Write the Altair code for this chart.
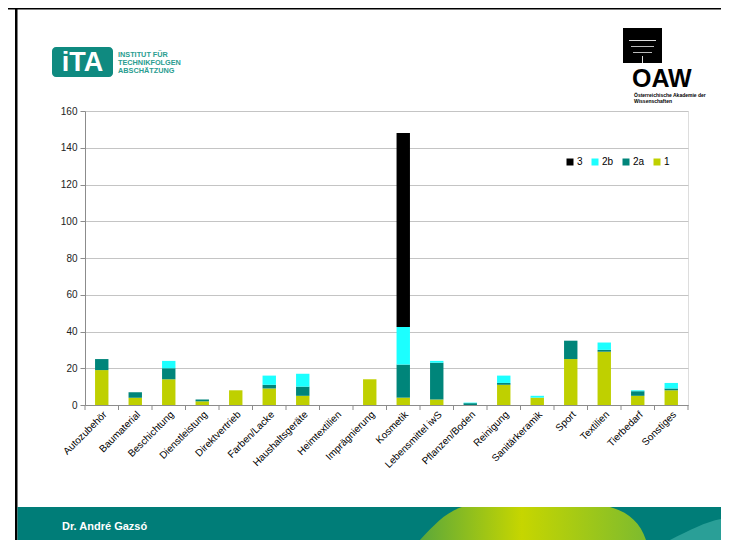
import altair as alt
import pandas as pd

categories = ["Autozubehör", "Baumaterial", "Beschichtung", "Dienstleistung", "Direktvertrieb",
              "Farben/Lacke", "Haushaltsgeräte", "Heimtextilien", "Imprägnierung", "Kosmetik",
              "Lebensmittel iwS", "Pflanzen/Boden", "Reinigung", "Sanitärkeramik", "Sport",
              "Textilien", "Tierbedarf", "Sonstiges"]
s1 = [19, 4, 14, 2, 8, 9, 5, 0, 14, 4, 3, 0, 11, 4, 25, 29, 5, 8]
s2a = [6, 3, 6, 1, 0, 2, 5, 0, 0, 18, 20, 1, 1, 0, 10, 1, 2.5, 1]
s2b = [0, 0, 4, 0, 0, 5, 7, 0, 0, 20.5, 1, 0.3, 4, 1, 0, 4, 0.5, 3]
s3 = [0, 0, 0, 0, 0, 0, 0, 0, 0, 105.5, 0, 0, 0, 0, 0, 0, 0, 0]
series_names = ["3", "2b", "2a", "1"]
series_colors = ["#000000", "#1CFFFF", "#00857A", "#BFD000"]
y_ticks = [0, 20, 40, 60, 80, 100, 120, 140, 160]

rows = []
for name, vals, order in [("1", s1, 0), ("2a", s2a, 1), ("2b", s2b, 2), ("3", s3, 3)]:
    for c, v in zip(categories, vals):
        if v > 0:
            rows.append({"cat": c, "series": name, "value": v, "ord": order})
df = pd.DataFrame(rows)

W, H = 603, 294
OX, OY = 85, 111  # page position of plot origin
FONT = "Liberation Sans"
one = pd.DataFrame({"k": [0]})

xscale = alt.Scale(domain=categories, paddingInner=0, paddingOuter=0)
xaxis = alt.Axis(title=None, labelAngle=-45, labelAlign="right", labelBaseline="top",
                 labelFontSize=10, labelFont=FONT, labelColor="#000000", ticks=False,
                 domainColor="#8C8C8C", labelPadding=4, zindex=1)

bars = alt.Chart(df).mark_bar(width=alt.RelativeBandSize(0.4)).encode(
    x=alt.X("cat:N", scale=xscale, axis=xaxis),
    y=alt.Y("value:Q", stack="zero", scale=alt.Scale(domain=[0, 160], nice=False),
            axis=alt.Axis(values=y_ticks, title=None, grid=True, gridColor="#C4C4C4",
                          tickSize=5, tickColor="#8C8C8C", domainColor="#8C8C8C",
                          labelFontSize=10, labelFont=FONT, labelColor="#222222",
                          labelPadding=3)),
    color=alt.Color("series:N", scale=alt.Scale(domain=series_names, range=series_colors),
                    legend=alt.Legend(title=None, orient="none", legendX=480, legendY=46,
                                      direction="horizontal", symbolType="square",
                                      symbolSize=49, symbolStrokeWidth=0, labelFontSize=10,
                                      labelFont=FONT, columnPadding=7, labelOffset=2,
                                      padding=0)),
    order=alt.Order("ord:Q", sort="ascending"),
)

tick_df = pd.DataFrame({"cat": categories})
xticks = alt.Chart(tick_df).mark_rule(color="#8C8C8C").encode(
    x=alt.X("cat:N", bandPosition=0, scale=xscale, axis=xaxis),
    y=alt.value(H), y2=alt.value(H + 5),
)
xtick_end = alt.Chart(one).mark_rule(color="#8C8C8C").encode(
    x=alt.value(W), y=alt.value(H), y2=alt.value(H + 5))


def rect(x1, y1, x2, y2, color, **kw):
    return alt.Chart(one).mark_rect(color=color, **kw).encode(
        x=alt.value(x1 - OX), x2=alt.value(x2 - OX),
        y=alt.value(y1 - OY), y2=alt.value(y2 - OY))


def text(x, y, s, size, color="#000000", weight="normal", align="left", font=FONT):
    return alt.Chart(one).mark_text(text=s, fontSize=size, color=color, fontWeight=weight,
                                    align=align, baseline="middle", font=font).encode(
        x=alt.value(x - OX), y=alt.value(y - OY))


def shape(points, color, cx, cy, half):
    # decorative footer swoosh as a custom symbol path
    parts = []
    for cmd, pts in points:
        coords = " ".join(f"{(px - cx) / half:.4f},{(py - cy) / half:.4f}" for px, py in pts)
        parts.append(f"{cmd}{coords}")
    path = " ".join(parts) + " Z"
    return alt.Chart(one).mark_point(shape=path, filled=True, opacity=1, strokeWidth=0,
                                     color=color, size=(2 * half) ** 2).encode(
        x=alt.value(cx - OX), y=alt.value(cy - OY))


green = alt.Gradient(gradient="linear", x1=0, y1=0, x2=1, y2=0,
                     stops=[alt.GradientStop(offset=0, color="#5BA83A"),
                            alt.GradientStop(offset=0.45, color="#C6D600"),
                            alt.GradientStop(offset=1, color="#7DBB2E")])

decor = [
    rect(8, 8, 721, 9.5, "#000000"),
    rect(15, 8, 17.5, 540, "#000000"),
    rect(17.5, 507, 721, 540, "#007D78"),
    shape([("M", [(420, 540)]), ("C", [(434, 525), (446, 512), (462, 507)]),
           ("L", [(610, 507)]), ("C", [(628, 512), (640, 522), (646, 540)])],
          green, 530, 523, 130),
    shape([("M", [(670, 540)]), ("C", [(690, 530), (705, 522), (721, 519)]),
           ("L", [(721, 540)])], "#2A9F97", 695, 528, 40),
    text(62, 527, "Dr. André Gazsó", 11, "#FFFFFF", "bold"),
    rect(52, 47, 113, 77, "#0F8A80", cornerRadius=4),
    text(82.5, 63, "iTA", 27, "#FFFFFF", "bold", "center"),
    text(118, 55, "INSTITUT FÜR", 7.3, "#2A9D90", "bold"),
    text(118, 63, "TECHNIKFOLGEN", 7.3, "#2A9D90", "bold"),
    text(118, 71, "ABSCHÄTZUNG", 7.3, "#2A9D90", "bold"),
    rect(623, 28, 662, 63, "#000000"),
    rect(629, 40, 656, 41, "#DDDDDD"),
    rect(631, 46, 654, 47, "#BBBBBB"),
    rect(633, 52, 652, 53, "#BBBBBB"),
    rect(642, 56, 643, 63, "#DDDDDD"),
    text(632, 79, "OAW", 25, "#000000", "bold"),
    text(634, 95, "Österreichische Akademie der", 5, "#000000", "bold"),
    text(634, 101, "Wissenschaften", 5, "#000000", "bold"),
]

chart = alt.layer(*decor, xticks, xtick_end, bars).properties(
    width=W, height=H,
    padding={"left": 77, "top": 103, "right": 33, "bottom": 135},
    autosize=alt.AutoSizeParams(type="none"),
    background="#FFFFFF",
).configure_view(strokeWidth=0).configure(font=FONT)

chart.save("out.html", embed_options={"renderer": "svg", "actions": False})
